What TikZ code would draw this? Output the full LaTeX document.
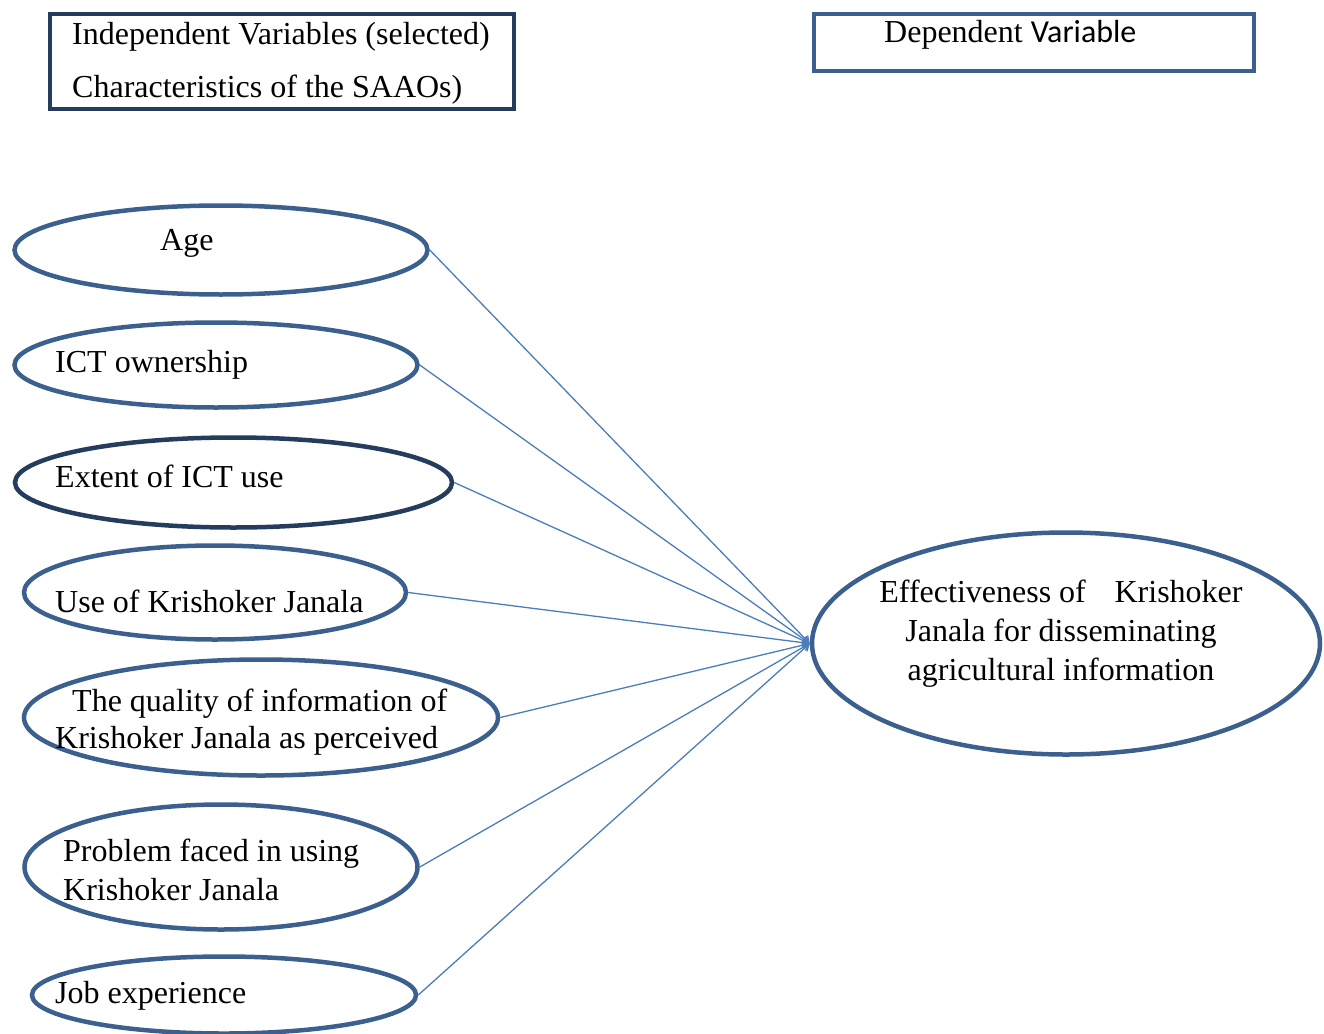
\documentclass[tikz,border=0pt]{standalone}
\usepackage{fontspec}
\setmainfont{Liberation Serif}
\newfontfamily\calib{Carlito}
\usetikzlibrary{shapes.geometric,arrows.meta}
\definecolor{ellc}{RGB}{60,96,142}
\definecolor{darkc}{RGB}{36,60,94}
\definecolor{linec}{RGB}{74,126,187}
\begin{document}
\begin{tikzpicture}[x=1pt,y=-1pt,
  var/.style={ellipse,draw=ellc,line width=4.5pt,inner sep=0pt,fill=white},
  hbox/.style={draw=ellc,line width=4.5pt,inner sep=0pt,fill=white},
  lbl/.style={anchor=base west,inner sep=0pt,font=\fontsize{32}{37}\selectfont,align=left},
  conn/.style={draw=linec,line width=1.3pt,-{Straight Barb[length=6pt,width=8pt]}}]
\useasboundingbox (0,0) rectangle (1324,1033);
% header boxes
\node[hbox,draw=darkc,minimum width=464pt,minimum height=95pt] (indep) at (282,61.5) {};
\node[lbl] (indept) at (72,45) {Independent Variables (selected)};
\node[lbl] (indept2) at (72,97) {Characteristics of the SAAOs)};
\node[hbox,minimum width=440pt,minimum height=57pt] (dep) at (1034,42.5) {};
\node[lbl] (dept) at (884,43) {Dependent {\calib Variable}};
% ellipses
\node[var,minimum width=413pt,minimum height=89pt] (age) at (221,250) {};
\node[var,minimum width=403pt,minimum height=85pt] (own) at (216,365) {};
\node[var,draw=darkc,minimum width=437pt,minimum height=90pt] (ext) at (233.5,482.5) {};
\node[var,minimum width=382pt,minimum height=94pt] (usekj) at (215,592.5) {};
\node[var,minimum width=474pt,minimum height=116pt] (qual) at (261,717.5) {};
\node[var,minimum width=393pt,minimum height=125pt] (prob) at (221,867) {};
\node[var,minimum width=384pt,minimum height=77pt] (job) at (224,995) {};
\node[var,minimum width=508pt,minimum height=222pt] (eff) at (1066,643.5) {};
% labels
\node[lbl] (aget) at (160,250) {Age};
\node[lbl] (ownt) at (55,372) {ICT ownership};
\node[lbl] (extt) at (55,487) {Extent of ICT use};
\node[lbl] (uset) at (55,612) {Use of Krishoker Janala};
\node[lbl,font=\fontsize{32}{37}\selectfont] (qualt) at (55,748) {\hspace*{17pt}The quality of information of\\Krishoker Janala as perceived};
\node[lbl,font=\fontsize{32}{39}\selectfont] (probt) at (63,900) {Problem faced in using\\Krishoker Janala};
\node[lbl] (jobt) at (55,1003) {Job experience};
\node[anchor=base,inner sep=0pt,align=center,font=\fontsize{32}{39}\selectfont] (efft) at (1061,680) {Effectiveness of\hspace{0.9em}Krishoker\\Janala for disseminating\\agricultural information};
% connectors
\draw[conn] (age.east) -- (eff.west);
\draw[conn] (own.east) -- (eff.west);
\draw[conn] (ext.east) -- (eff.west);
\draw[conn] (usekj.east) -- (eff.west);
\draw[conn] (qual.east) -- (eff.west);
\draw[conn] (prob.east) -- (eff.west);
\draw[conn] (job.east) -- (eff.west);
\end{tikzpicture}
\end{document}
